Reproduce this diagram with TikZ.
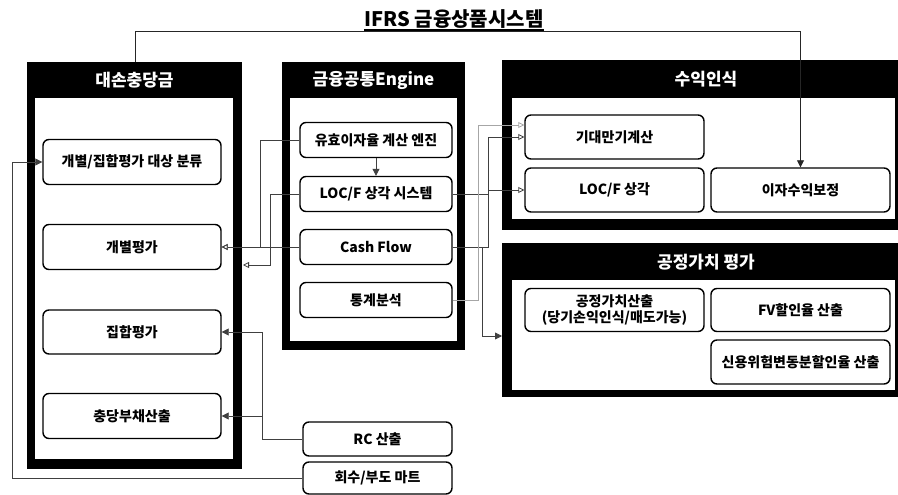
\documentclass[tikz,border=0pt]{standalone}
\usepackage{fontspec}
\setmainfont{Noto Sans CJK KR}
\usetikzlibrary{arrows.meta}
\newcommand\bxfont{\fontsize{14}{16}\selectfont\bfseries}
\newcommand\hdfont{\fontsize{17}{19}\selectfont\bfseries}
\newcommand\ttlfont{\fontsize{20}{22}\selectfont\bfseries}
\begin{document}
\begin{tikzpicture}[x=1pt,y=-1pt,
 box/.style={draw=black, line width=1.4pt, rounded corners=6pt, fill=white, align=center, font=\bxfont, inner sep=0pt, text=black},
 lbox/.style={box, minimum width=178, minimum height=45},
 mbox/.style={box, minimum width=152, minimum height=35},
 rbox/.style={box, minimum width=179, minimum height=44},
 bbox/.style={box, minimum width=149, minimum height=34},
 head/.style={text=white, font=\hdfont, inner sep=0pt},
 conn/.style={draw=black!75, line width=0.8pt},
 lconn/.style={draw=black!35, line width=0.8pt},
 tipf/.style={-{Triangle[length=7pt,width=7pt]}},
 tipo/.style={-{Triangle[open,length=6pt,width=6pt]}},
]
\useasboundingbox (0,0) rectangle (898,495);
% panels
\fill[black] (27,62) rectangle (242,469);
\fill[white] (35,98) rectangle (233,459);
\fill[black] (282,62) rectangle (465,350);
\fill[white] (290,98) rectangle (457,341);
\fill[black] (502,60) rectangle (898,230);
\fill[white] (512,98) rectangle (895,219);
\fill[black] (502,243) rectangle (898,397);
\fill[white] (512,280) rectangle (895,390);
% headers
\node[head] (H1) at (134.5,80) {대손충당금};
\node[head] (H2) at (373.5,80) {금융공통Engine};
\node[head] (H3) at (706,79) {수익인식};
\node[head] (H4) at (706,262) {공정가치 평가};
% title
\node[font=\ttlfont, inner sep=0pt, anchor=base] (T) at (454,27) {IFRS 금융상품시스템};
\draw[line width=1.5pt] ([yshift=-3pt]T.base west) -- ([yshift=-3pt]T.base east);
% boxes
\node[lbox] (L1) at (132,162) {개별/집합평가 대상 분류};
\node[lbox] (L2) at (132,247) {개별평가};
\node[lbox, minimum height=44] (L3) at (132,332) {집합평가};
\node[lbox] (L4) at (132,416) {충당부채산출};
\node[mbox] (M1) at (376,140) {유효이자율 계산 엔진};
\node[mbox] (M2) at (376,194) {LOC/F 상각 시스템};
\node[mbox] (M3) at (376,247) {Cash Flow};
\node[mbox] (M4) at (376,300) {통계분석};
\node[rbox] (R1) at (614.5,137) {기대만기계산};
\node[rbox] (R2) at (614.5,190) {LOC/F 상각};
\node[rbox] (R3) at (800.5,190) {이자수익보정};
\node[rbox, minimum height=43] (F1) at (614.5,310) {공정가치산출\\(당기손익인식/매도가능)};
\node[rbox, minimum height=43] (F2) at (800.5,310) {FV할인율 산출};
\node[rbox] (F3) at (800.5,362) {신용위험변동분할인율 산출};
\node[bbox] (B1) at (377.5,439) {RC 산출};
\node[bbox, minimum height=32] (B2) at (377.5,478) {회수/부도 마트};
% helper coordinates
\coordinate (xa) at (260,0);
\coordinate (xb) at (270,0);
\coordinate (xc) at (262,0);
\coordinate (xl) at (12,0);
\coordinate (xd) at (488,0);
\coordinate (xe) at (482,0);
\coordinate (xf) at (478,0);
\coordinate (T0) at (135,62);
\coordinate (ty) at (0,31);
\coordinate (L2in) at (243,265);
\coordinate (Fin) at (502,336);
% connectors
\draw[conn,tipo] (M1.west) -- (M1.west -| xa) |- (L2.east);
\draw[conn,tipo] (M3.west) -- (L2.east);
\draw[conn,tipo] (M2.west) -- (M2.west -| xb) |- (L2in);
\draw[conn,tipf] (B1.west) -- (B1.west -| xc) |- (L3.east);
\draw[conn,tipf] (xc |- L4.east) -- (L4.east);
\draw[conn,tipf] (B2.west) -- (B2.west -| xl) |- (L1.west);
\draw[black!85, line width=0.8pt, tipf] (T0) -- (T0 |- ty) -| (R3.north);
\draw[conn,tipf] (M1.south) -- (M2.north);
\draw[conn,tipo] (M3.east) -- (M3.east -| xd) |- (R1.west);
\draw[conn,tipo] (M2.east) -- (M2.east -| xd) |- (R2.west);
\draw[conn,tipf] (M3.east) -- (M3.east -| xe) |- (Fin);
\draw[lconn,tipo] (M4.east) -- (M4.east -| xf) |- ([yshift=12pt]R1.west);
\end{tikzpicture}
\end{document}
